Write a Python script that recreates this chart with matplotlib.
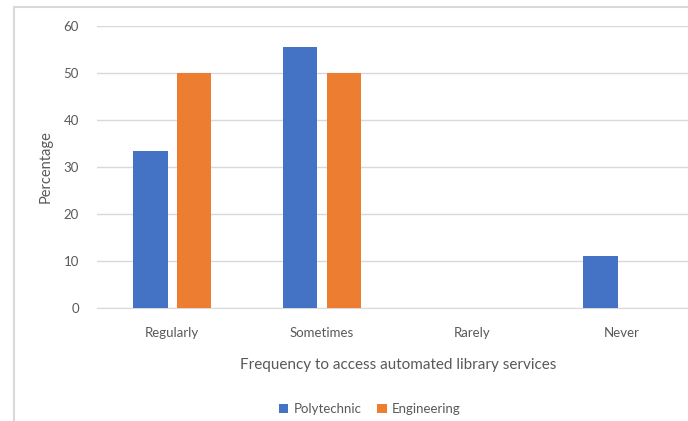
import matplotlib.pyplot as plt
from matplotlib.patches import Rectangle
import numpy as np

# Data
categories = ['Regularly', 'Sometimes', 'Rarely', 'Never']
polytechnic = [33.3, 55.6, 0, 11.1]
engineering = [50, 50, 0, 0]
series_names = ['Polytechnic', 'Engineering']

plt.rcParams['font.family'] = ['Lato', 'DejaVu Sans']
text_col = '#595959'

fig = plt.figure(figsize=(6.88, 4.21), dpi=100)
W, H = 688, 421

# light outer chart frame (left and top edges visible)
fig.patches.append(Rectangle((14 / W, -0.1), 1.2, 1 - 7 / H + 0.1, transform=fig.transFigure,
                             fill=False, edgecolor='#d9d9d9', linewidth=1.5))

ax = fig.add_axes([97 / W, (H - 308) / H, (W - 97) / W, 282 / H])

x = np.arange(len(categories))
w = 0.233
gap = 0.06
ax.bar(x - (w + gap) / 2, polytechnic, w, color='#4472C4', label=series_names[0], zorder=3)
ax.bar(x + (w + gap) / 2, engineering, w, color='#ED7D31', label=series_names[1], zorder=3)

ax.set_xlim(-0.5, -0.5 + (W - 97) / 150)
ax.set_ylim(0, 60)
ax.set_yticks(range(0, 61, 10))
ax.set_xticks(x)
ax.set_xticklabels(categories)
ax.grid(axis='y', color='#d9d9d9', linewidth=1, zorder=0)
ax.tick_params(axis='both', length=0, colors=text_col, labelsize=9.5)
ax.tick_params(axis='y', pad=13)
ax.tick_params(axis='x', pad=14)
for s in ['top', 'right', 'left']:
    ax.spines[s].set_visible(False)
ax.spines['bottom'].set_color('#d9d9d9')

ax.set_ylabel('Percentage', color=text_col, fontsize=10.5)
ax.yaxis.set_label_coords(-(97 - 53) / (W - 97), 0.5)
fig.text(398 / W, 1 - 365 / H, 'Frequency to access automated library services',
         ha='center', va='center', color=text_col, fontsize=11)

leg = fig.legend(loc='center', bbox_to_anchor=(370 / W, 1 - 409 / H), ncol=2, frameon=False,
                 fontsize=9.5, handlelength=0.7, handleheight=0.7, handletextpad=0.4,
                 columnspacing=1.2)
for t in leg.get_texts():
    t.set_color(text_col)

fig.savefig('out.png', dpi=100)
